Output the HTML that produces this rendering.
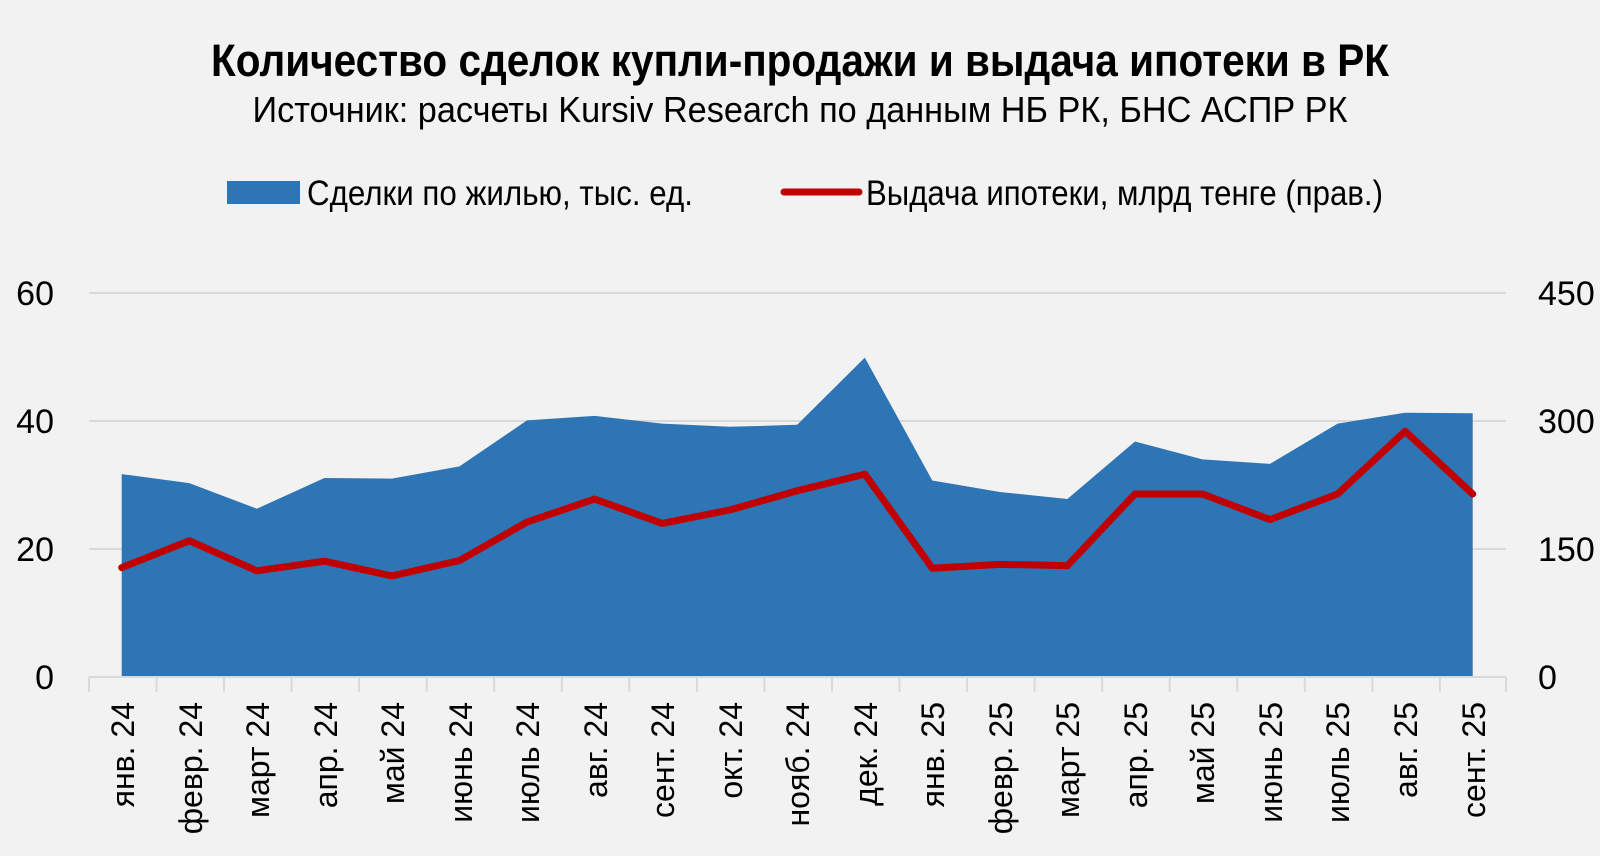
<!DOCTYPE html>
<html><head><meta charset="utf-8"><style>
html,body{margin:0;padding:0;background:#f2f2f2;}
svg{display:block;font-family:"Liberation Sans",sans-serif;}
</style></head><body>
<svg width="1600" height="856" viewBox="0 0 1600 856" xmlns="http://www.w3.org/2000/svg">
<rect width="1600" height="856" fill="#f2f2f2"/>
<text x="800" y="76" text-anchor="middle" font-size="45" font-weight="bold" textLength="1178" lengthAdjust="spacingAndGlyphs" fill="#000">Количество сделок купли-продажи и выдача ипотеки в РК</text>
<text x="800" y="122" text-anchor="middle" font-size="36" textLength="1095" lengthAdjust="spacingAndGlyphs" fill="#000">Источник: расчеты Kursiv Research по данным НБ РК, БНС АСПР РК</text>
<rect x="227" y="181" width="73" height="23" fill="#2e75b6"/>
<text x="307" y="205" font-size="35" textLength="386" lengthAdjust="spacingAndGlyphs">Сделки по жилью, тыс. ед.</text>
<line x1="784" y1="192" x2="859" y2="192" stroke="#c00000" stroke-width="7" stroke-linecap="round"/>
<text x="866" y="205" font-size="35" textLength="517" lengthAdjust="spacingAndGlyphs">Выдача ипотеки, млрд тенге (прав.)</text>
<g stroke="#d9d9d9" stroke-width="2">
<line x1="89" y1="293" x2="1506" y2="293"/>
<line x1="89" y1="421" x2="1506" y2="421"/>
<line x1="89" y1="549" x2="1506" y2="549"/>
</g>
<g font-size="34" fill="#000">
<text x="54" y="305" text-anchor="end">60</text>
<text x="54" y="433" text-anchor="end">40</text>
<text x="54" y="561" text-anchor="end">20</text>
<text x="54" y="689" text-anchor="end">0</text>
<text x="1538" y="305">450</text>
<text x="1538" y="433">300</text>
<text x="1538" y="561">150</text>
<text x="1538" y="689">0</text>
</g>
<polygon fill="#2e75b6" points="121.7,677 121.7,474.1 189.3,483.1 256.8,508.7 324.4,478 391.9,478.6 459.5,466.4 527,420.4 594.6,415.9 662.1,423.6 729.7,426.8 797.2,424.8 864.8,357.6 932.3,480.5 999.9,492 1067.4,499 1135,441.5 1202.5,459.4 1270,463.9 1337.6,423.6 1405.1,412.7 1472.7,413.3 1472.7,677"/>
<polyline fill="none" stroke="#c00000" stroke-width="7" stroke-linejoin="round" stroke-linecap="round" points="121.7,567.6 189.3,540.7 256.8,570.8 324.4,561.2 391.9,575.9 459.5,560.5 527,522.1 594.6,499 662.1,523.4 729.7,510 797.2,490.8 864.8,474.1 932.3,568.2 999.9,564.4 1067.4,565.6 1135,494 1202.5,494 1270,519.6 1337.6,494 1405.1,431.2 1472.7,494"/>
<line x1="89" y1="677" x2="1506" y2="677" stroke="#d9d9d9" stroke-width="2"/>
<g stroke="#d9d9d9" stroke-width="2">
<line x1="89" y1="677" x2="89" y2="692"/><line x1="156.5" y1="677" x2="156.5" y2="692"/><line x1="224" y1="677" x2="224" y2="692"/><line x1="291.6" y1="677" x2="291.6" y2="692"/><line x1="359.1" y1="677" x2="359.1" y2="692"/><line x1="426.7" y1="677" x2="426.7" y2="692"/><line x1="494.2" y1="677" x2="494.2" y2="692"/><line x1="561.8" y1="677" x2="561.8" y2="692"/><line x1="629.3" y1="677" x2="629.3" y2="692"/><line x1="696.9" y1="677" x2="696.9" y2="692"/><line x1="764.4" y1="677" x2="764.4" y2="692"/><line x1="832" y1="677" x2="832" y2="692"/><line x1="899.5" y1="677" x2="899.5" y2="692"/><line x1="967.1" y1="677" x2="967.1" y2="692"/><line x1="1034.6" y1="677" x2="1034.6" y2="692"/><line x1="1102.2" y1="677" x2="1102.2" y2="692"/><line x1="1169.7" y1="677" x2="1169.7" y2="692"/><line x1="1237.3" y1="677" x2="1237.3" y2="692"/><line x1="1304.8" y1="677" x2="1304.8" y2="692"/><line x1="1372.4" y1="677" x2="1372.4" y2="692"/><line x1="1506" y1="677" x2="1506" y2="692"/><line x1="1439.9" y1="677" x2="1439.9" y2="692"/>
</g>
<g font-size="32" fill="#000" text-anchor="end">
<text transform="translate(134,702) rotate(-90)">янв. 24</text>
<text transform="translate(202,702) rotate(-90)">февр. 24</text>
<text transform="translate(269,702) rotate(-90)">март 24</text>
<text transform="translate(337,702) rotate(-90)">апр. 24</text>
<text transform="translate(404,702) rotate(-90)">май 24</text>
<text transform="translate(472,702) rotate(-90)">июнь 24</text>
<text transform="translate(539,702) rotate(-90)">июль 24</text>
<text transform="translate(607,702) rotate(-90)">авг. 24</text>
<text transform="translate(674,702) rotate(-90)">сент. 24</text>
<text transform="translate(742,702) rotate(-90)">окт. 24</text>
<text transform="translate(809,702) rotate(-90)">нояб. 24</text>
<text transform="translate(877,702) rotate(-90)">дек. 24</text>
<text transform="translate(944,702) rotate(-90)">янв. 25</text>
<text transform="translate(1012,702) rotate(-90)">февр. 25</text>
<text transform="translate(1079,702) rotate(-90)">март 25</text>
<text transform="translate(1147,702) rotate(-90)">апр. 25</text>
<text transform="translate(1214,702) rotate(-90)">май 25</text>
<text transform="translate(1282,702) rotate(-90)">июнь 25</text>
<text transform="translate(1349,702) rotate(-90)">июль 25</text>
<text transform="translate(1417,702) rotate(-90)">авг. 25</text>
<text transform="translate(1485,702) rotate(-90)">сент. 25</text>
</g>
</svg>
</body></html>
